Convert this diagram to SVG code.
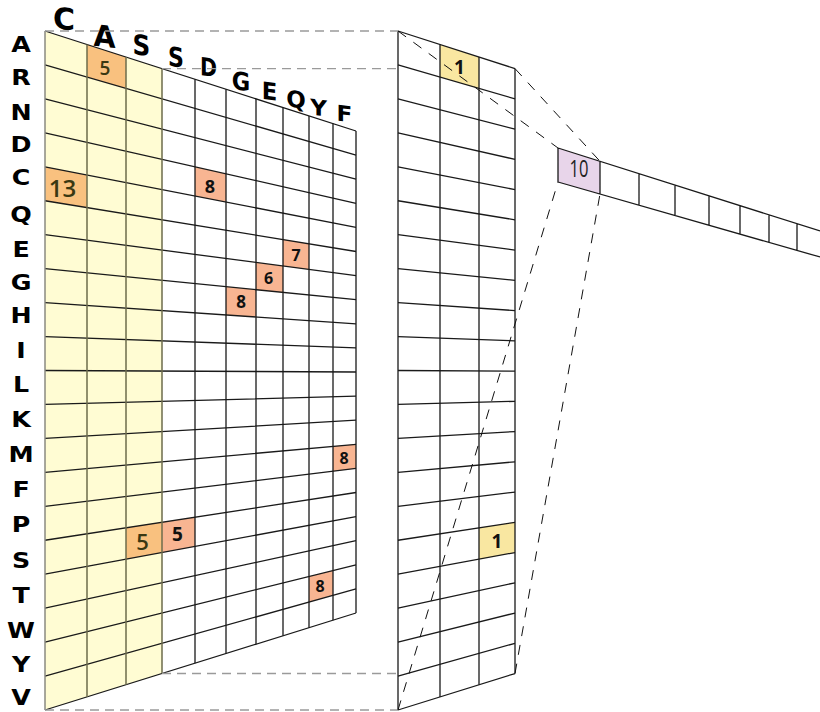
<svg xmlns="http://www.w3.org/2000/svg" width="820" height="712" viewBox="0 0 820 712">
<style>
.lbl{font-family:"DejaVu Sans","Liberation Sans",sans-serif;font-weight:bold;fill:#000;text-anchor:middle}
.grid{stroke:#1a1a1a;stroke-width:1.3;fill:none}
.olive{stroke:#6e6c4c;stroke-width:1.5;fill:none}
.edge{stroke:#8a8a80;stroke-width:1.5;fill:none}
.dg{stroke:#9a9a9a;stroke-width:1.4;stroke-dasharray:9 6;fill:none}
.db{stroke:#111;stroke-width:1;stroke-dasharray:10 9;fill:none}
.nb{font-family:"Open Sans","Noto Sans",sans-serif;font-weight:600;fill:#3a3812;text-anchor:middle}
.nk{font-family:"Open Sans","Noto Sans",sans-serif;font-weight:700;fill:#111;text-anchor:middle}
.band{fill:#FFFCD3}
.org{fill:#F9C17F}
.sal{fill:#F8B592}
.yel{fill:#F9E7A1}
.pur{fill:#E8D5EA}
</style>

<g id="row-labels" transform="scale(1.15,1)">
<text class="lbl" font-size="22" x="18.3" y="52.5">A</text>
<text class="lbl" font-size="22" x="18.3" y="85.5">R</text>
<text class="lbl" font-size="22" x="18.3" y="120">N</text>
<text class="lbl" font-size="22" x="18.3" y="152">D</text>
<text class="lbl" font-size="22" x="18.3" y="185.5">C</text>
<text class="lbl" font-size="22" x="18.3" y="222">Q</text>
<text class="lbl" font-size="22" x="18.3" y="257">E</text>
<text class="lbl" font-size="22" x="18.3" y="290.5">G</text>
<text class="lbl" font-size="22" x="18.3" y="323.5">H</text>
<text class="lbl" font-size="22" x="18.3" y="358">I</text>
<text class="lbl" font-size="22" x="18.3" y="392.5">L</text>
<text class="lbl" font-size="22" x="18.3" y="427">K</text>
<text class="lbl" font-size="22" x="18.3" y="462">M</text>
<text class="lbl" font-size="22" x="18.3" y="497">F</text>
<text class="lbl" font-size="22" x="18.3" y="532.5">P</text>
<text class="lbl" font-size="22" x="18.3" y="568">S</text>
<text class="lbl" font-size="22" x="18.3" y="603">T</text>
<text class="lbl" font-size="22" x="18.3" y="638">W</text>
<text class="lbl" font-size="22" x="18.3" y="672.5">Y</text>
<text class="lbl" font-size="22" x="18.3" y="705.5">V</text>
</g>

<g id="col-labels">
<text class="lbl" font-size="30" transform="translate(64,18.5) skewY(5)" y="11">C</text>
<text class="lbl" font-size="30" transform="translate(104.5,36) skewY(6) scale(0.95,1)" y="11">A</text>
<text class="lbl" font-size="28" transform="translate(141.5,45) skewY(7) scale(0.88,1)" y="10.2">S</text>
<text class="lbl" font-size="27" transform="translate(176,57) skewY(7) scale(0.82,1)" y="9.8">S</text>
<text class="lbl" font-size="25" transform="translate(208.5,67) skewY(7) scale(0.82,1)" y="9.1">D</text>
<text class="lbl" font-size="25" transform="translate(241,81) skewY(7) scale(0.9,1)" y="9.1">G</text>
<text class="lbl" font-size="24" transform="translate(269.5,91) skewY(7) scale(0.95,1)" y="8.7">E</text>
<text class="lbl" font-size="23" transform="translate(296,99) skewY(7)" y="8.4">Q</text>
<text class="lbl" font-size="22" transform="translate(318.5,107.5) skewY(7) scale(1.05,1)" y="8">Y</text>
<text class="lbl" font-size="22" transform="translate(344.5,113.5) skewY(7) scale(1.05,1)" y="8">F</text>
</g>

<g id="matrix-left">
<polygon class="band" points="45,31 162,68.62 162,673.51 45,710"/>
<polygon class="org" points="87,44.5 126,57.05 126,88.43 87,77.12"/>
<polygon class="org" points="45,166.8 87,174.98 87,207.6 45,200.75"/>
<polygon class="org" points="126,527.81 162,522.29 162,552.53 126,559.2"/>
<polygon class="sal" points="195,166.83 226,173.85 226,202.07 195,196.03"/>
<polygon class="sal" points="283,239.59 309,243.83 309,269.42 283,266"/>
<polygon class="sal" points="256,262.45 283,266 283,292.41 256,289.72"/>
<polygon class="sal" points="226,286.72 256,289.72 256,316.98 226,314.94"/>
<polygon class="sal" points="333,446.37 356,444.3 356,468.4 333,471.2"/>
<polygon class="sal" points="162,522.29 195,517.22 195,546.42 162,552.53"/>
<polygon class="sal" points="309,576.48 333,570.52 333,595.34 309,602.07"/>
<path class="grid" d="M45,31L356,131M45,64.95L356,155.1M45,98.9L356,179.2M45,132.85L356,203.3M45,166.8L356,227.4M45,200.75L356,251.5M45,234.7L356,275.6M45,268.65L356,299.7M45,302.6L356,323.8M45,336.55L356,347.9M45,370.5L356,372M45,404.45L356,396.1M45,438.4L356,420.2M45,472.35L356,444.3M45,506.3L356,468.4M45,540.25L356,492.5M45,574.2L356,516.6M45,608.15L356,540.7M45,642.1L356,564.8M45,676.05L356,588.9M45,710L356,613"/>
<path class="edge" d="M45,31V710"/>
<path class="olive" d="M87,44.5V696.9M126,57.05V684.74M162,68.62V673.51"/>
<path class="grid" d="M195,79.23V663.22M226,89.2V653.55M256,98.85V644.19M283,107.53V635.77M309,115.89V627.66M333,123.6V620.17M356,131V613"/>
<text class="nb" font-size="19" x="105" y="75">5</text>
<text class="nb" font-size="24" x="62.5" y="197">13</text>
<text class="nb" font-size="22" x="142.5" y="549.5">5</text>
<text class="nk" font-size="18" x="210" y="193.3">8</text>
<text class="nk" font-size="16" x="296" y="260.7">7</text>
<text class="nk" font-size="16" x="268.5" y="283.7">6</text>
<text class="nk" font-size="17" x="241" y="307.5">8</text>
<text class="nk" font-size="16" x="344" y="464">8</text>
<text class="nk" font-size="19" x="177.5" y="540.5">5</text>
<text class="nk" font-size="16" x="320" y="591.5">8</text>
</g>

<g id="matrix-middle">
<polygon fill="#fff" points="398,31 515,68.62 515,673.51 398,710"/>
<polygon class="yel" points="440,44.5 479,57.05 479,88.43 440,77.12"/>
<polygon class="yel" points="479,527.81 515,522.28 515,552.52 479,559.2"/>
<path class="grid" d="M398,31L515,68.62M398,64.95L515,98.87M398,98.9L515,129.11M398,132.85L515,159.35M398,166.8L515,189.6M398,200.75L515,219.84M398,234.7L515,250.09M398,268.65L515,280.33M398,302.6L515,310.57M398,336.55L515,340.82M398,370.5L515,371.06M398,404.45L515,401.31M398,438.4L515,431.55M398,472.35L515,461.79M398,506.3L515,492.04M398,540.25L515,522.28M398,574.2L515,552.52M398,608.15L515,582.77M398,642.1L515,613.01M398,676.05L515,643.26M398,710L515,673.51"/>
<path class="grid" d="M398,31V710M440,44.5V696.9M479,57.05V684.74M515,68.62V673.51"/>
<text class="nk" font-size="19" x="459.5" y="73.5">1</text>
<text class="nk" font-size="19" x="497" y="547.5">1</text>
</g>

<g id="strip">
<polygon class="pur" points="558,148 600,161.3 600,194 558,182"/>
<path class="grid" d="M558,148L820,231M558,182L820,257M558,148V182M600,161.3V194M639,173.7V205.2M675,185.1V215.5M709,195.8V225.2M740,205.7V234.1M769,214.8V242.4M797,223.7V250.4"/>
<text font-family="Open Sans, Noto Sans, sans-serif" font-size="23" fill="#222" text-anchor="middle" transform="translate(579,177) scale(0.72,1)">10</text>
</g>

<g id="connectors">
<path class="dg" d="M45,31H398M162,68.62H398M162,673.51H398M45,710H398"/>
<path class="db" d="M398,31L558,148M515,68.62L600,161.3M398,710L558,182M515,673.51L600,194"/>
</g>
</svg>
